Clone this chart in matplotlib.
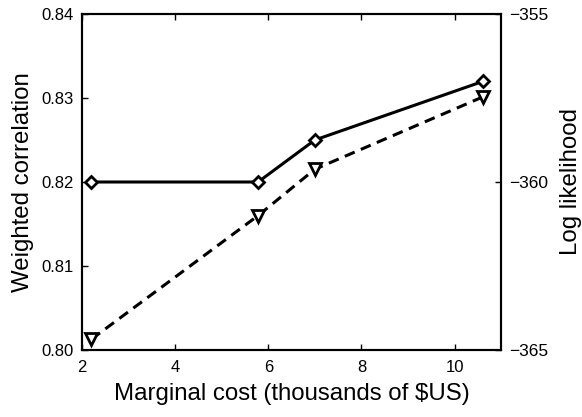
import matplotlib
matplotlib.use("Agg")
import matplotlib.pyplot as plt

# marginal cost (thousands of $US)
cost = [2.2, 5.78, 7.0, 10.62]
# weighted correlation (left axis, solid + diamonds)
corr = [0.820, 0.820, 0.825, 0.832]
# log likelihood (right axis, dashed + down triangles)
loglik = [-364.68, -361.0, -359.62, -357.46]

plt.rcParams["font.family"] = ["Liberation Sans", "DejaVu Sans"]

fig = plt.figure(figsize=(5.82, 4.17), dpi=100)
ax = fig.add_axes([0.141, 0.1607, 0.72, 0.8057])
ax2 = ax.twinx()

ax.plot(cost, corr, color="black", lw=2.2, marker="D", markersize=6.5,
        markerfacecolor="white", markeredgecolor="black", markeredgewidth=2)
ax2.plot(cost, loglik, color="black", lw=2.2, ls=(0, (3.5, 2.2)), marker="v",
         markersize=9, markerfacecolor="white", markeredgecolor="black",
         markeredgewidth=2)

ax.set_xlim(2, 11)
ax.set_ylim(0.80, 0.84)
ax.set_xticks([2, 4, 6, 8, 10])
ax.set_yticks([0.80, 0.81, 0.82, 0.83, 0.84])
ax.set_yticklabels(["0.80", "0.81", "0.82", "0.83", "0.84"])
ax2.set_ylim(-365, -355)
ax2.set_yticks([-365, -360, -355])

ax.tick_params(direction="in", top=True, labelsize=12, length=4, width=1, pad=6)
ax2.tick_params(direction="in", labelsize=12.5, length=4, width=1, pad=6)
ax.tick_params(axis="x", pad=7)

for a in (ax, ax2):
    for s in a.spines.values():
        s.set_linewidth(1.5)

ax.set_xlabel("Marginal cost (thousands of $US)", fontsize=17.3, labelpad=6)
ax.set_ylabel("Weighted correlation", fontsize=17.3, labelpad=5)
ax2.set_ylabel("Log likelihood", fontsize=17.3, labelpad=8)

fig.savefig("out.png", dpi=100)
